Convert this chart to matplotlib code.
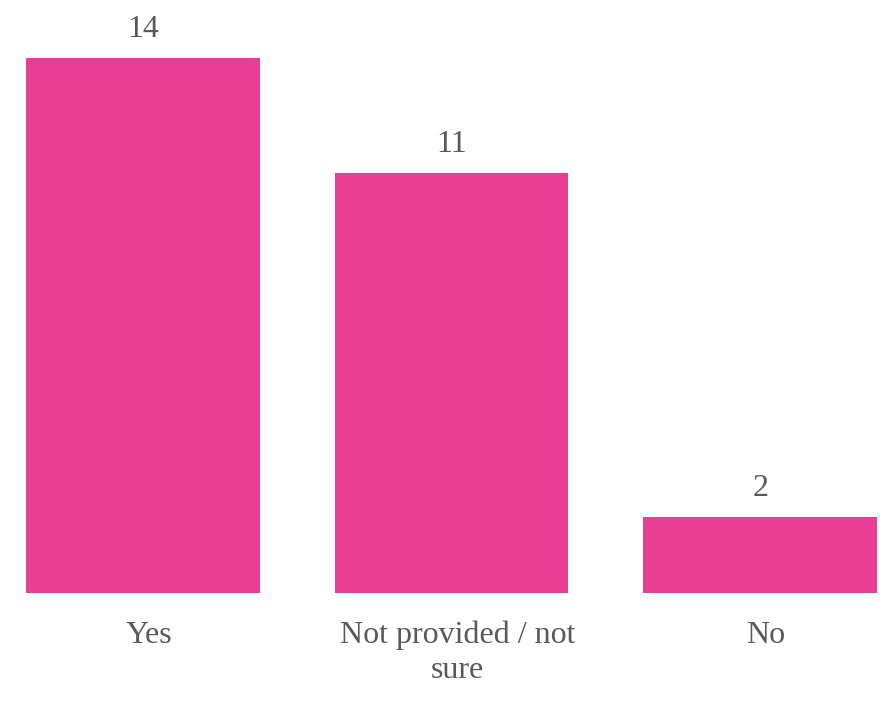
import matplotlib
matplotlib.use("Agg")
import matplotlib.pyplot as plt
import matplotlib.transforms as mtransforms

categories = ["Yes", "Not provided / not\nsure", "No"]
values = [14, 11, 2]

bar_color = "#E83E93"
text_color = "#595959"
font = "Liberation Serif"

W, H = 885, 725
fig = plt.figure(figsize=(W / 100, H / 100), dpi=100)
left, right = 26, 877
bottom_px = 593
px_per_unit = 38.2
ymax = 15
top_px = bottom_px - px_per_unit * ymax
ax = fig.add_axes([left / W, (H - bottom_px) / H, (right - left) / W, (bottom_px - top_px) / H])

x = list(range(len(categories)))
width = 234 / 309
ax.bar(x, values, width=width, color=bar_color)
ax.set_xlim(-width / 2, len(categories) - 1 + width / 2)
ax.set_ylim(0, ymax)

for xi, v in zip(x, values):
    ax.annotate(str(v), (xi, v), xytext=(0, 10), textcoords="offset points",
                ha="center", va="bottom", fontsize=23, family=font, color=text_color)

ax.set_xticks(x)
ax.set_xticklabels(categories, fontsize=23, family=font, color=text_color, linespacing=1.25)
ax.tick_params(axis="x", length=0, pad=20)
ax.set_yticks([])
for s in ax.spines.values():
    s.set_visible(False)

offset = mtransforms.ScaledTranslation(6 / 100, 0, fig.dpi_scale_trans)
for lbl in ax.get_xticklabels():
    lbl.set_transform(lbl.get_transform() + offset)

fig.savefig("out.png", dpi=100)
